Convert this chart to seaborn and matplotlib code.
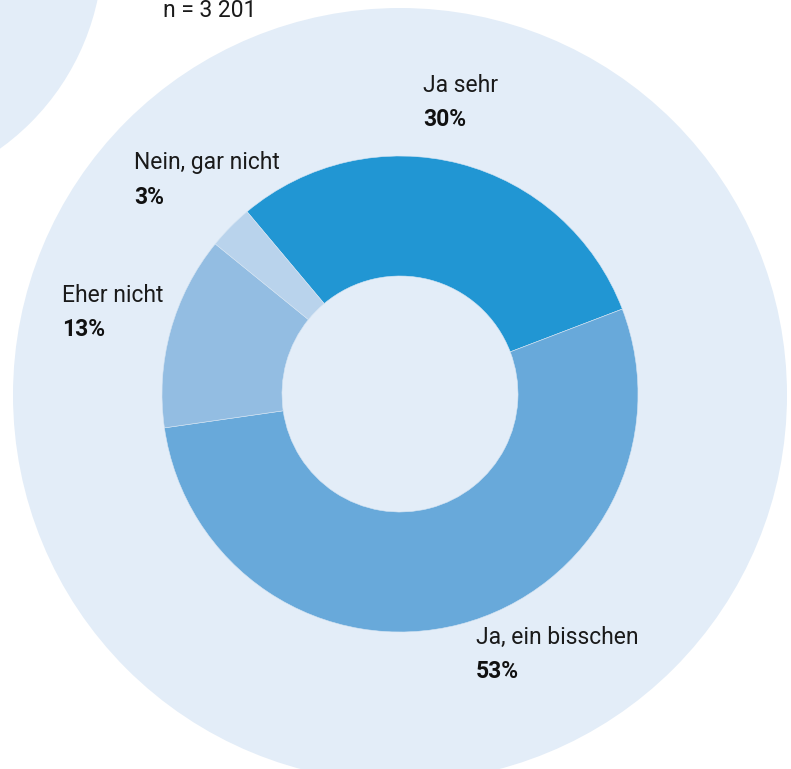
import matplotlib
matplotlib.use("Agg")
import matplotlib.pyplot as plt
from matplotlib.patches import Circle
import seaborn as sns

# data
categories = ["Ja sehr", "Ja, ein bisschen", "Eher nicht", "Nein, gar nicht"]
shares = [30, 53, 13, 3]
share_labels = ["30%", "53%", "13%", "3%"]
sample_note = "n = 3 201"

colors = ["#2196D3", "#68A9DA", "#93BDE2", "#B9D3EC"]
bg_color = "#E3EDF8"

W, H = 791, 769

sns.set_theme(style="white")
plt.rcParams["font.family"] = ["Roboto", "DejaVu Sans"]

fig = plt.figure(figsize=(W / 100, H / 100), dpi=100)
ax = fig.add_axes([0, 0, 1, 1])


def fy(py):
    # pixel row (from top) -> data y
    return H - py


# background circles
ax.add_patch(Circle((400, fy(395)), 387, color=bg_color, zorder=0, lw=0))
ax.add_patch(Circle((-144, fy(-52)), 247, color=bg_color, zorder=0, lw=0))

# donut
ax.pie(shares, colors=colors, startangle=130, counterclock=False,
       center=(400, fy(394)), radius=238,
       wedgeprops=dict(width=120, edgecolor="#D6E5F3", linewidth=0.4))

# labels: (x, row of name, row of value)
label_pos = [(423, 85, 119), (476, 637, 672), (62, 296, 330), (134, 163, 198)]
for name, val, (x, y1, y2) in zip(categories, share_labels, label_pos):
    ax.text(x, fy(y1), name, fontsize=16.5, color="#1a1a1a",
            ha="left", va="center")
    ax.text(x, fy(y2), val, fontsize=16.5, fontweight="bold", color="#111111",
            ha="left", va="center")

ax.text(163, fy(17), sample_note, fontsize=16.5, color="#1a1a1a",
        ha="left", va="baseline")

ax.set_xlim(0, W)
ax.set_ylim(0, H)
ax.set_aspect("equal")
ax.axis("off")

fig.savefig("out.png", dpi=100)
